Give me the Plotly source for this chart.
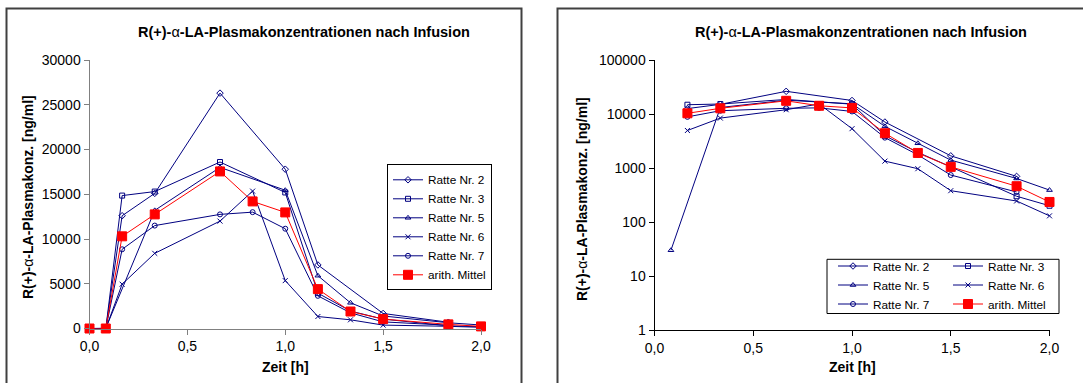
import plotly.graph_objects as go

# ---------------- data ----------------
zeit = [0, 0.0833, 0.1667, 0.3333, 0.6667, 0.8333, 1.0, 1.1667, 1.3333, 1.5, 1.8333, 2.0]
ratte2 = [0, 0, 12600, 15100, 26300, None, 17800, 7100, None, 1680, 700, None]
ratte3 = [0, 0, 14850, 15300, 18600, None, 15200, 3950, 1950, 1050, 300, 200]
ratte5 = [0, 30, None, 13200, 18000, None, 15450, 5900, 2870, 1400, 640, 390]
ratte6 = [0, 0, 4950, 8400, 12000, 15350, 5350, 1340, 970, 380, 245, 130]
ratte7 = [0, 0, 8850, 11500, 12750, 13000, 11150, 3650, 1750, 740, 360, None]
mittel = [0, 0, 10300, 12750, 17550, 14200, 12970, 4400, 1900, 1050, 460, 235]

series_names = ["Ratte Nr. 2", "Ratte Nr. 3", "Ratte Nr. 5", "Ratte Nr. 6", "Ratte Nr. 7", "arith. Mittel"]
series_values = [ratte2, ratte3, ratte5, ratte6, ratte7, mittel]

x_tickvals = [0, 0.5, 1.0, 1.5, 2.0]
x_ticktext = ["0,0", "0,5", "1,0", "1,5", "2,0"]
lin_tickvals = [0, 5000, 10000, 15000, 20000, 25000, 30000]
lin_ticktext = ["0", "5000", "10000", "15000", "20000", "25000", "30000"]
log_tickvals = [1, 10, 100, 1000, 10000, 100000]
log_ticktext = ["1", "10", "100", "1000", "10000", "100000"]

title_text = "<b>R(+)-</b>α<b>-LA-Plasmakonzentrationen nach Infusion</b>"
ytitle_text = "<b>R(+)-</b>α<b>-LA-Plasmakonz. [ng/ml]</b>"
xtitle_text = "<b>Zeit [h]</b>"

# ---------------- styles ----------------
W, H = 1083, 383
NAVY = "#000080"
RED = "#ff0000"
FONT = "Liberation Sans, Arial, sans-serif"
symbols = ["diamond-open", "square-open", "triangle-up-open", "x-thin-open", "circle-open", "square"]
sizes = [5, 5, 5, 5, 5, 9]
colors = [NAVY, NAVY, NAVY, NAVY, NAVY, RED]


def px(x):
    return x / W


def py(y):
    return 1 - y / H


fig = go.Figure()

right_legends = ["legend2", "legend3", "legend2", "legend3", "legend2", "legend3"]

for i, (name, vals) in enumerate(zip(series_names, series_values)):
    mk = dict(symbol=symbols[i], size=sizes[i], color=colors[i],
              line=dict(color=colors[i], width=1))
    fig.add_trace(go.Scatter(
        x=zeit, y=vals, name=name, mode="lines+markers",
        line=dict(color=colors[i], width=1), marker=mk,
        connectgaps=True, cliponaxis=False,
        xaxis="x", yaxis="y", legend="legend", legendgroup="L%d" % i,
    ))
for i, (name, vals) in enumerate(zip(series_names, series_values)):
    # zero values cannot be shown on the logarithmic axis -> left empty
    log_vals = [v if (v is not None and v > 0) else None for v in vals]
    mk = dict(symbol=symbols[i], size=sizes[i], color=colors[i],
              line=dict(color=colors[i], width=1))
    fig.add_trace(go.Scatter(
        x=zeit, y=log_vals, name=name, mode="lines+markers",
        line=dict(color=colors[i], width=1), marker=mk,
        connectgaps=True, cliponaxis=False,
        xaxis="x2", yaxis="y2", legend=right_legends[i],
    ))

tickfont = dict(family=FONT, size=14, color="#000")

common_x = dict(range=[0, 2], tickvals=x_tickvals, ticktext=x_ticktext,
                showgrid=False, zeroline=False, showline=True, linewidth=1,
                ticks="outside", ticklen=5, tickwidth=1, tickfont=tickfont,
                automargin=False, fixedrange=True)

legend_font = dict(family=FONT, size=11.8, color="#000")

fig.update_layout(
    width=W, height=H,
    margin=dict(l=0, r=0, t=0, b=0),
    paper_bgcolor="white", plot_bgcolor="white",
    font=dict(family=FONT, size=12, color="#000"),
    xaxis=dict(domain=[px(89.5), px(481)], anchor="y",
               linecolor="#808080", tickcolor="#808080", **common_x),
    yaxis=dict(domain=[py(328.5), py(60)], anchor="x", range=[0, 30000],
               tickvals=lin_tickvals, ticktext=lin_ticktext,
               showgrid=False, zeroline=False, showline=True, linewidth=1,
               linecolor="#808080", tickcolor="#808080",
               ticks="outside", ticklen=5, tickwidth=1, tickfont=tickfont,
               automargin=False, fixedrange=True),
    xaxis2=dict(domain=[px(654.5), px(1049.5)], anchor="y2",
                linecolor="#000", tickcolor="#000", **common_x),
    yaxis2=dict(domain=[py(330), py(60)], anchor="x2", type="log", range=[0, 5],
                tickvals=log_tickvals, ticktext=log_ticktext,
                showgrid=False, zeroline=False, showline=True, linewidth=1,
                linecolor="#000", tickcolor="#000",
                ticks="outside", ticklen=5, tickwidth=1, tickfont=tickfont,
                automargin=False, fixedrange=True),
    legend=dict(x=px(387), y=py(164.3), xanchor="left", yanchor="top",
                bgcolor="white", bordercolor="#000", borderwidth=1,
                font=legend_font, itemwidth=30, tracegroupgap=2, traceorder="normal",
                entrywidth=62, entrywidthmode="pixels"),
    legend2=dict(x=px(833), y=py(251.5), xanchor="left", yanchor="top",
                 bgcolor="rgba(0,0,0,0)", borderwidth=0,
                 font=legend_font, itemwidth=30, traceorder="normal"),
    legend3=dict(x=px(948), y=py(251.5), xanchor="left", yanchor="top",
                 bgcolor="rgba(0,0,0,0)", borderwidth=0,
                 font=legend_font, itemwidth=30, traceorder="normal"),
    showlegend=True,
)

shapes = [
    # panel borders
    dict(type="rect", xref="paper", yref="paper", x0=px(6.5), x1=px(521.5), y0=py(395), y1=py(8.5),
         line=dict(color="#404040", width=2), fillcolor="rgba(0,0,0,0)", layer="below"),
    dict(type="rect", xref="paper", yref="paper", x0=px(557.5), x1=px(1095), y0=py(395), y1=py(8.5),
         line=dict(color="#404040", width=2), fillcolor="rgba(0,0,0,0)", layer="below"),
    # right legend box
    dict(type="rect", xref="paper", yref="paper", x0=px(827), x1=px(1059), y0=py(313.5), y1=py(259.3),
         line=dict(color="#000", width=1), fillcolor="white", layer="above"),
]
fig.update_layout(shapes=shapes)

ann = []
title_font = dict(family=FONT, size=14.5, color="#000")
bold14 = dict(family=FONT, size=14, color="#000")
for cx in (304, 861):
    ann.append(dict(text=title_text, x=px(cx), y=py(32.3), xref="paper", yref="paper",
                    xanchor="center", yanchor="middle", showarrow=False, font=title_font))
for cx in (285.3, 852):
    ann.append(dict(text=xtitle_text, x=px(cx), y=py(366.7), xref="paper", yref="paper",
                    xanchor="center", yanchor="middle", showarrow=False, font=bold14))
for cx, cy in ((27.5, 197.5), (582, 199)):
    ann.append(dict(text=ytitle_text, x=px(cx), y=py(cy), xref="paper", yref="paper",
                    xanchor="center", yanchor="middle", showarrow=False, textangle=-90,
                    font=bold14))
fig.update_layout(annotations=ann)

fig.write_html("out.html", post_script="document.body.style.margin='0';",
               config={"displayModeBar": False})
